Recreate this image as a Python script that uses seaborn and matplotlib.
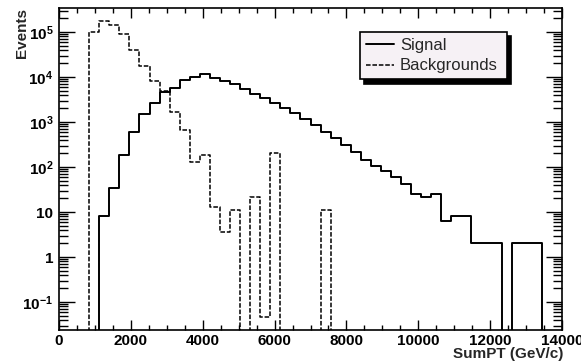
import numpy as np
import pandas as pd
import matplotlib
matplotlib.use("Agg")
import matplotlib.pyplot as plt
import seaborn as sns
from matplotlib.ticker import (FixedLocator, FixedFormatter, LogLocator,
                               MultipleLocator, NullFormatter)

# SumPT histograms: 50 bins of 280 GeV/c between 0 and 14000 GeV/c
bin_width = 280
n_bins = 50

signal_events = [
    0, 0, 0, 0, 8, 35, 186, 590, 1480, 2650,
    4700, 5800, 8500, 10200, 11500, 9400, 8100, 6900, 5400, 4200,
    3460, 2600, 2000, 1560, 1170, 860, 600, 435, 309, 215,
    145, 108, 82, 59, 43, 25, 22, 25, 6.3, 8,
    8, 2, 2, 2, 0, 2, 2, 2, 0, 0,
]

background_events = [
    0, 0, 0, 1.0e5, 1.76e5, 1.4e5, 8.9e4, 4.0e4, 1.75e4, 8000,
    5000, 1700, 660, 128, 186, 13, 3.6, 11, 0, 22,
    0.047, 200, 0, 0, 0, 0, 11, 0, 0, 0,
    0, 0, 0, 0, 0, 0, 0, 0, 0, 0,
    0, 0, 0, 0, 0, 0, 0, 0, 0, 0,
]

series_labels = ["Signal", "Backgrounds"]
y_tick_values = [1e-1, 1, 10, 1e2, 1e3, 1e4, 1e5]
y_tick_labels = [r"$\mathregular{10^{-1}}$", "1", "10",
                 r"$\mathregular{10^{2}}$", r"$\mathregular{10^{3}}$",
                 r"$\mathregular{10^{4}}$", r"$\mathregular{10^{5}}$"]

x_max = n_bins * bin_width
centers = np.arange(n_bins) * bin_width + bin_width / 2
df = pd.DataFrame({
    "SumPT": np.concatenate([centers, centers]),
    "Events": np.concatenate([signal_events, background_events]),
    "Sample": [series_labels[0]] * n_bins + [series_labels[1]] * n_bins,
})

sns.set_theme(style="ticks")
plt.rcParams["font.family"] = ["Liberation Sans", "DejaVu Sans"]
plt.rcParams["axes.linewidth"] = 1.2
plt.rcParams["mathtext.default"] = "regular"

fig = plt.figure(figsize=(5.81, 3.63), dpi=100)
ax = fig.add_axes([0.10155, 0.09091, 0.86575, 0.88705])

sns.histplot(data=df[df["Sample"] == "Signal"], x="SumPT", weights="Events",
             bins=n_bins, binrange=(0, x_max), element="step", fill=False,
             color="black", linewidth=1.4, ax=ax)
sig_line = ax.lines[-1]
sns.histplot(data=df[df["Sample"] == "Backgrounds"], x="SumPT", weights="Events",
             bins=n_bins, binrange=(0, x_max), element="step", fill=False,
             color="black", linewidth=1.1, linestyle=(0, (3, 1.2)), ax=ax)
bg_line = ax.lines[-1]

ax.set_yscale("log")
ax.set_xlim(0, x_max)
ax.set_ylim(0.0239, 3.42e5)

ax.xaxis.set_major_locator(MultipleLocator(2000))
ax.xaxis.set_minor_locator(MultipleLocator(500))
ax.yaxis.set_major_locator(FixedLocator(y_tick_values))
ax.yaxis.set_major_formatter(FixedFormatter(y_tick_labels))
ax.yaxis.set_minor_locator(LogLocator(base=10, subs=np.arange(2, 10), numticks=30))
ax.yaxis.set_minor_formatter(NullFormatter())

ax.tick_params(axis="both", which="both", direction="in", top=True, right=True,
               width=1.0, color="black", labelcolor="black", labelsize=11)
ax.tick_params(axis="x", which="major", length=7.2, pad=3)
ax.tick_params(axis="x", which="minor", length=3.8)
ax.tick_params(axis="y", which="major", length=11.5, pad=4)
ax.tick_params(axis="y", which="minor", length=6.5)
for lbl in ax.get_xticklabels() + ax.get_yticklabels():
    lbl.set_fontweight("bold")

for s in ax.spines.values():
    s.set_color("black")
    s.set_linewidth(1.2)

ax.set_xlabel("SumPT (GeV/c)", fontsize=11, fontweight="bold", loc="right")
ax.xaxis.set_label_coords(1.003, -0.052)
ax.set_ylabel("Events", fontsize=11, fontweight="bold", loc="top")
ax.yaxis.set_label_coords(-0.060, 1.0)

leg = ax.legend(handles=[sig_line, bg_line], labels=series_labels,
                loc="upper left", bbox_to_anchor=(0.598, 0.752, 0.293, 0.173),
                mode="expand", borderaxespad=0, fancybox=False, fontsize=12,
                handlelength=1.7, handletextpad=0.35, borderpad=0.36,
                labelspacing=0.32, framealpha=1,
                shadow={"ox": 3, "oy": -3, "facecolor": "black",
                        "edgecolor": "black", "alpha": 1})
leg.get_frame().set_facecolor("#f6f1f5")
leg.get_frame().set_edgecolor("black")
leg.get_frame().set_linewidth(1.2)

fig.savefig("out.png", dpi=100)
